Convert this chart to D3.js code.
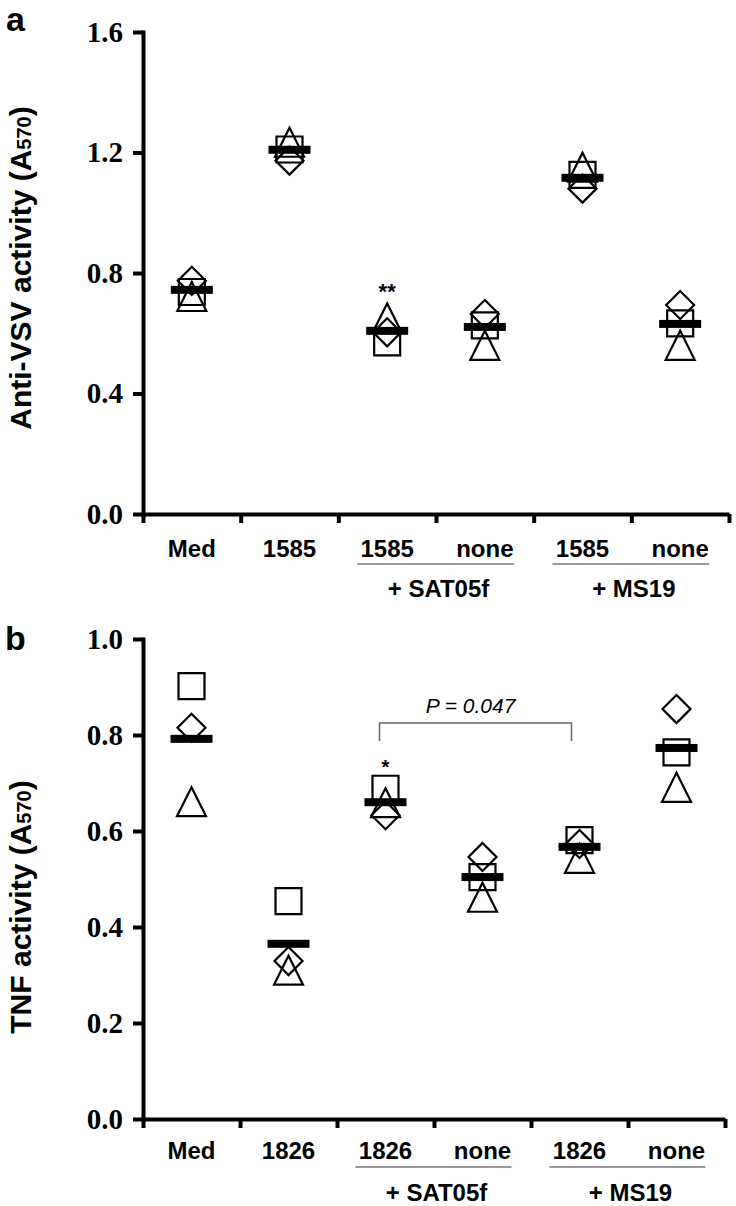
<!DOCTYPE html>
<html>
<head>
<meta charset="utf-8">
<script src="https://cdn.jsdelivr.net/npm/d3@7"></script>
<style>
  body { margin: 0; background: #fff; }
</style>
</head>
<body>
<div id="chart"></div>
<script>
// panel a: anti-VSV activity
const categoriesA = ["Med", "1585", "1585", "none", "1585", "none"];
const squareA   = [0.737, 1.210, 0.570, 0.626, 1.126, 0.633];
const triangleA = [0.722, 1.234, 0.651, 0.560, 1.151, 0.560];
const diamondA  = [0.774, 1.173, 0.603, 0.664, 1.080, 0.694];
const meanA     = [0.744, 1.209, 0.608, 0.621, 1.116, 0.631];
const ticksA    = [0, 0.4, 0.8, 1.2, 1.6];

// panel b: TNF activity
const categoriesB = ["Med", "1826", "1826", "none", "1826", "none"];
const squareB   = [0.902, 0.454, 0.688, 0.504, 0.581, 0.764];
const triangleB = [0.661, 0.310, 0.659, 0.462, 0.543, 0.691];
const diamondB  = [0.815, 0.329, 0.633, 0.546, 0.573, 0.854];
const meanB     = [0.792, 0.365, 0.660, 0.504, 0.567, 0.773];
const ticksB    = [0, 0.2, 0.4, 0.6, 0.8, 1.0];

const groupLabels = ["+ SAT05f", "+ MS19"];
const groupIndex  = [[2, 3], [4, 5]];

const sans = "'Liberation Sans', Arial, sans-serif";
const serif = "'Liberation Serif', 'Times New Roman', serif";

const svg = d3.select("#chart").append("svg")
    .attr("width", 736)
    .attr("height", 1206)
    .style("font-family", sans);

// symbol shapes centred on their bounding box
const shapes = {
    square: s => `M${-s/2},${-s/2}h${s}v${s}h${-s}Z`,
    triangle: s => `M0,${-s/2}L${s/2},${s/2}L${-s/2},${s/2}Z`,
    diamond: s => `M0,${-s/2}L${s/2},0L0,${s/2}L${-s/2},0Z`
};
const shapeSize = { square: 26, triangle: 29, diamond: 28 };

function drawPanel(p) {
    const g = svg.append("g");

    const x = d3.scaleBand()
        .domain(d3.range(p.categories.length))
        .range(p.xRange);

    const xEdge = d3.scaleLinear()
        .domain([0, p.categories.length])
        .range(p.xRange);

    const y = d3.scaleLinear()
        .domain([0, d3.max(p.ticks)])
        .range(p.yRange);

    const cx = i => x(i) + x.bandwidth() / 2;

    // y axis
    const yAxis = d3.axisLeft(y)
        .tickValues(p.ticks)
        .tickFormat(d3.format(".1f"))
        .tickSize(10)
        .tickSizeOuter(0)
        .tickPadding(10);

    g.append("g")
        .attr("transform", `translate(${p.xRange[0]},0)`)
        .call(yAxis)
        .call(a => a.select(".domain").attr("stroke-width", 4).attr("stroke-linecap", "square"))
        .call(a => a.selectAll(".tick line").attr("stroke-width", 4))
        .call(a => a.selectAll(".tick text")
            .style("font-family", serif)
            .style("font-weight", "bold")
            .style("font-size", "29px")
            .attr("fill", "#000"));

    // x axis: ticks between the categories
    const xAxis = d3.axisBottom(xEdge)
        .tickValues(d3.range(p.categories.length + 1))
        .tickFormat("")
        .tickSize(9)
        .tickSizeOuter(0);

    g.append("g")
        .attr("transform", `translate(0,${p.yRange[0]})`)
        .call(xAxis)
        .call(a => a.select(".domain").attr("stroke-width", 4))
        .call(a => a.selectAll(".tick line").attr("stroke-width", 4));

    // category labels
    g.append("g").selectAll("text")
        .data(p.categories)
        .join("text")
        .attr("x", (d, i) => cx(i))
        .attr("y", p.catY)
        .attr("text-anchor", "middle")
        .attr("font-weight", "bold")
        .attr("font-size", 24)
        .text(d => d);

    // group lines and labels
    groupIndex.forEach((pair, k) => {
        const x0 = cx(pair[0]) - 30, x1 = cx(pair[1]) + 29;
        g.append("line")
            .attr("x1", x0).attr("x2", x1)
            .attr("y1", p.groupLineY).attr("y2", p.groupLineY)
            .attr("stroke", "#777")
            .attr("stroke-width", 1.5);
        g.append("text")
            .attr("x", (x0 + x1) / 2 + 3)
            .attr("y", p.groupLabelY)
            .attr("text-anchor", "middle")
            .attr("font-weight", "bold")
            .attr("font-size", 24)
            .text(groupLabels[k]);
    });

    // individual symbols
    const series = [
        { shape: "square", values: p.square },
        { shape: "triangle", values: p.triangle },
        { shape: "diamond", values: p.diamond }
    ];
    series.forEach(s => {
        g.append("g").selectAll("path")
            .data(s.values)
            .join("path")
            .attr("transform", (d, i) => `translate(${cx(i)},${y(d)})`)
            .attr("d", shapes[s.shape](shapeSize[s.shape]))
            .attr("fill", "none")
            .attr("stroke", "#000")
            .attr("stroke-width", 2.2);
    });

    // mean bars
    g.append("g").selectAll("rect")
        .data(p.mean)
        .join("rect")
        .attr("x", (d, i) => cx(i) - 21)
        .attr("y", d => y(d) - 4)
        .attr("width", 42)
        .attr("height", 8)
        .attr("fill", "#000");

    // significance stars
    const si = p.star.index;
    const topEdge = d3.min(series, s => y(s.values[si]) - shapeSize[s.shape] / 2);
    g.append("text")
        .attr("x", cx(si))
        .attr("y", topEdge - p.star.gap)
        .attr("text-anchor", "middle")
        .attr("font-weight", "bold")
        .attr("font-size", p.star.size)
        .text(p.star.text);

    // y label
    const yl = g.append("text")
        .attr("transform", `translate(${p.yLabel.x},${p.yLabel.y}) rotate(-90)`)
        .attr("text-anchor", "middle")
        .attr("font-weight", "bold")
        .attr("font-size", 30);
    yl.append("tspan").text(p.yLabel.text + " (A");
    yl.append("tspan").attr("font-size", 20).text("570");
    yl.append("tspan").text(")");

    // panel letter
    g.append("text")
        .attr("x", p.letter.x)
        .attr("y", p.letter.y)
        .attr("font-weight", "bold")
        .attr("font-size", 34)
        .text(p.letter.text);

    // comparison bracket
    if (p.bracket) {
        const b = p.bracket;
        const bx0 = cx(b.from) - 6, bx1 = cx(b.to) - 8;
        g.append("path")
            .attr("d", `M${bx0},${b.top + b.leg}V${b.top}H${bx1}V${b.top + b.leg}`)
            .attr("fill", "none")
            .attr("stroke", "#666")
            .attr("stroke-width", 1.5);
        g.append("text")
            .attr("x", (bx0 + bx1) / 2 - 5)
            .attr("y", b.top - 10)
            .attr("text-anchor", "middle")
            .attr("font-style", "italic")
            .attr("font-size", 21)
            .text(b.text);
    }
}

drawPanel({
    categories: categoriesA,
    square: squareA, triangle: triangleA, diamond: diamondA, mean: meanA,
    ticks: ticksA,
    xRange: [143, 729], yRange: [514, 32],
    catY: 557, groupLineY: 564, groupLabelY: 597,
    yLabel: { x: 31, y: 268, text: "Anti-VSV activity" },
    letter: { x: 6, y: 31, text: "a" },
    star: { index: 2, text: "**", size: 22, gap: 4 }
});

drawPanel({
    categories: categoriesB,
    square: squareB, triangle: triangleB, diamond: diamondB, mean: meanB,
    ticks: ticksB,
    xRange: [143, 725], yRange: [1119, 639],
    catY: 1159, groupLineY: 1167, groupLabelY: 1201,
    yLabel: { x: 31, y: 907, text: "TNF activity" },
    letter: { x: 5, y: 650, text: "b" },
    star: { index: 2, text: "*", size: 20, gap: 2 },
    bracket: { from: 2, to: 4, top: 723, leg: 18, text: "P = 0.047" }
});
</script>
</body>
</html>
